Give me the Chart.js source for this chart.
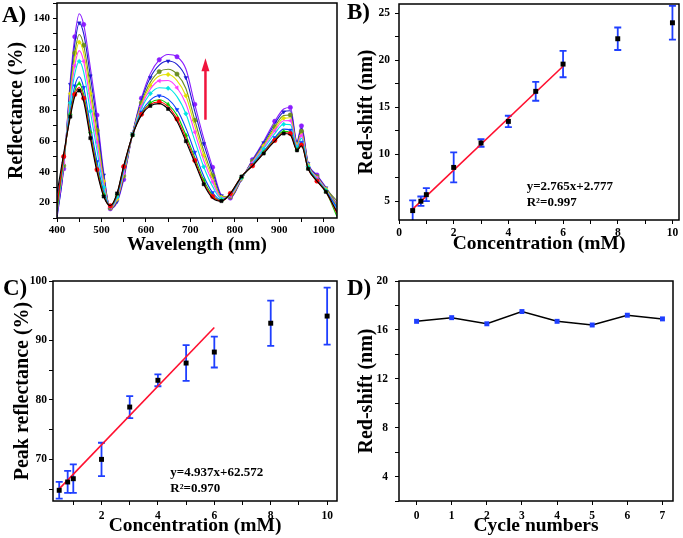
<!DOCTYPE html>
<html><head><meta charset="utf-8">
<script src="https://cdn.jsdelivr.net/npm/chart.js@4.4.1/dist/chart.umd.min.js"></script>
<style>
html,body{margin:0;padding:0;background:#fff;}
#page{position:relative;width:683px;height:538px;overflow:hidden;background:#fff;}
canvas{position:absolute;}
.lbl{position:absolute;font:bold 23px 'Liberation Serif','Times New Roman',serif;line-height:23px;color:#000;}
</style></head><body>
<div id="page">
<canvas id="cA" width="341" height="265" style="left:0px;top:0px"></canvas>
<canvas id="cB" width="342" height="265" style="left:341px;top:0px"></canvas>
<canvas id="cC" width="341" height="273" style="left:0px;top:265px"></canvas>
<canvas id="cD" width="342" height="273" style="left:341px;top:265px"></canvas>
<div class="lbl" style="left:2px;top:3px">A)</div>
<div class="lbl" style="left:347px;top:0px">B)</div>
<div class="lbl" style="left:3px;top:276px">C)</div>
<div class="lbl" style="left:347px;top:276px">D)</div>
</div>
<script>
// ---------- Panel A data: reflectance spectra ----------
const wavelength = [400,415,430,440,450,460,475,490,505,520,535,550,570,590,610,630,650,670,690,710,730,750,770,790,815,840,865,890,910,925,940,950,965,985,1005,1030];
const specBlack   = [26,52,76,89,93,86,62,40,24,18,26,44,64,77,83,84.5,81,73,60,46,32,23,21,26,37,44,52,60,65,64,54,57,42,34,27,14];
const specRed     = [18,50,77,90.5,95,88,64,41.5,24.5,18,25.5,43.5,64,77.5,84,85.5,82.5,74.5,62,47.5,33,24,21,26,37,44,52.5,60.5,65.5,65,54,57.5,42,34,27,13];
const specGreen   = [14,49,78,92.5,97.5,90.5,66,43.3,25.4,17.8,25.5,43,64,78,85,87,84,77,64,49.4,34.7,24.8,21.4,25.7,36.8,44.4,52.7,61.2,66.4,65.6,54.5,58.2,42.4,34.4,27.3,11];
const specBlue    = [22,49,80,96,102,95,70,46.7,26.9,17.6,24.9,42.4,64.2,79,86.8,89.6,87.4,80.6,68.5,52.8,37.4,26.6,21.7,25.5,36.6,44.7,53.4,62.3,67.9,67.2,55,59.3,42.7,34.7,27.5,17];
const specCyan    = [16,47,85,103.8,112,105,79.5,54,30,17.2,23.7,40.6,64.4,81.2,91,94.8,94.5,89,77.9,60.4,43.4,30.6,22.5,24.9,36.2,45.5,55,65,71,70.8,56.3,62,43.5,35.5,28.1,16];
const specMagenta = [12,46,88.5,109.3,119,112,86,59.2,32.3,17,22.9,39.3,64.5,82.7,93.9,99.3,99.5,94.8,84.4,65.8,47.6,33.4,23.1,24.4,36,46.1,56.2,66.8,73.3,73.4,57.1,63.8,44.1,36.1,28.6,15];
const specYellow  = [15,45,91,113.6,124.5,117.5,91,63.3,34,16.7,22.2,38.3,64.6,84,96.2,102.5,103.4,99.5,89.6,70,50.9,35.6,23.5,24.1,35.7,46.5,57,68.2,75,75.3,57.8,65.2,44.5,36.5,28.9,18];
const specOlive   = [20,44,93.5,117.5,129.5,122.5,95.6,67,35.7,16.5,21.6,37.4,64.7,85,98.3,105.3,106.9,103.7,94.3,73.7,53.9,37.6,23.9,23.8,35.5,46.9,57.8,69.5,76.7,77.1,58.4,66.5,44.9,36.9,29.2,21];
const specNavy    = [10,43,97,123.3,137,130,102.5,72.6,38,16.2,20.7,36.1,64.9,86.7,101.5,109.6,112.2,110,101.4,79.4,58.4,40.6,24.5,23.4,35.2,47.5,59,71.4,79.1,79.8,59.3,68.4,45.5,37.5,29.6,18];
const specPurple  = [12,42,100,128,143,136,108,77,40,16,20,35,65,88,104,113,116.5,115,107,84,62,43,25,23,35,48,60,73,81,82,60,70,46,38,30,19];
// arrow annotation (wavelength, reflectance tail -> head)
const arrowPos = [734, 74, 114];

// ---------- Panel B data ----------
const concentration = [0.5,0.8,1,2,3,4,5,6,8,10];
const redShift      = [4.0,5.0,5.7,8.6,11.2,13.5,16.7,19.6,22.3,24.0];
const redShiftErr   = [1.1,0.5,0.7,1.6,0.4,0.6,1.0,1.4,1.2,1.8];
const fitBx = [0.5,6];
const fitBy = [4.16,19.37];
const eqB = ['y=2.765x+2.777','R\u00B2=0.997'];

// ---------- Panel C data ----------
const peakRefl    = [64.8,66.2,66.75,70.0,78.8,83.3,86.2,88.05,92.9,94.1];
const peakReflErr = [1.4,1.85,2.4,2.8,1.85,1.0,3.0,2.6,3.8,4.8];
const fitCx = [0.5,6];
const fitCy = [65.04,92.19];
const eqC = ['y=4.937x+62.572','R\u00B2=0.970'];

// ---------- Panel D data ----------
const cycles      = [0,1,2,3,4,5,6,7];
const cycleShift  = [16.7,17.0,16.5,17.5,16.7,16.4,17.2,16.9];

// ---------- helpers ----------
const SERIF = "'Liberation Serif','Times New Roman',serif";
Chart.defaults.font.family = SERIF;
Chart.defaults.color = '#000';

function xAxis(o){
  return {
    type:'linear', position:'bottom', min:o.min, max:o.max,
    border:{display:false},
    grid:{display:true, drawOnChartArea:false, drawTicks:true, tickLength:4, color:'#000', lineWidth:1},
    ticks:{stepSize:o.step, autoSkip:false, includeBounds:false, maxRotation:0, color:'#000', padding:o.tickPad,
      font:{family:SERIF, weight:'bold', size:o.tickSize}, callback:o.label},
    title:{display:true, text:o.title, color:'#000', font:{family:SERIF, weight:'bold', size:o.titleSize||20}, padding:{top:0,bottom:o.titlePad}},
    afterFit:s=>{s.height=o.height; s.paddingLeft=0; s.paddingRight=0;}
  };
}
function yAxis(o){
  return {
    type:'linear', position:'left', min:o.min, max:o.max,
    border:{display:false},
    grid:{display:true, drawOnChartArea:false, drawTicks:true, tickLength:4, color:'#000', lineWidth:1},
    ticks:{stepSize:o.step, autoSkip:false, includeBounds:false, color:'#000', padding:o.tickPad,
      font:{family:SERIF, weight:'bold', size:o.tickSize}, callback:o.label},
    title:{display:true, text:o.title, color:'#000', font:{family:SERIF, weight:'bold', size:20}, padding:{top:o.titlePad,bottom:0}},
    afterFit:s=>{s.width=o.width; s.paddingTop=0; s.paddingBottom=0;}
  };
}
const framePlugin = {
  id:'frame',
  afterDatasetsDraw(chart){
    const {ctx, chartArea:a} = chart;
    ctx.save(); ctx.strokeStyle='#000'; ctx.lineWidth=1.5;
    ctx.strokeRect(a.left, a.top, a.right-a.left, a.bottom-a.top);
    ctx.restore();
  }
};
const errPlugin = {
  id:'errbars',
  beforeDatasetsDraw(chart, args, opts){
    if(!opts || !opts.xs) return;
    const {ctx, chartArea:a, scales:{x, y}} = chart;
    ctx.save();
    ctx.beginPath(); ctx.rect(a.left, a.top, a.right-a.left, a.bottom-a.top); ctx.clip();
    ctx.strokeStyle = opts.color; ctx.lineWidth = 1.8;
    opts.xs.forEach((xv,i)=>{
      const px = x.getPixelForValue(xv);
      const t = y.getPixelForValue(opts.ys[i]+opts.es[i]);
      const b = y.getPixelForValue(opts.ys[i]-opts.es[i]);
      ctx.beginPath();
      ctx.moveTo(px,t); ctx.lineTo(px,b);
      ctx.moveTo(px-3.5,t); ctx.lineTo(px+3.5,t);
      ctx.moveTo(px-3.5,b); ctx.lineTo(px+3.5,b);
      ctx.stroke();
    });
    ctx.restore();
  }
};
const notePlugin = {
  id:'notes',
  afterDatasetsDraw(chart, args, opts){
    if(!opts || !opts.lines) return;
    const {ctx, scales:{x, y}} = chart;
    ctx.save();
    ctx.fillStyle='#000'; ctx.font = 'bold 13px '+SERIF; ctx.textAlign='left'; ctx.textBaseline='middle';
    opts.lines.forEach((t,i)=>{
      ctx.fillText(t, x.getPixelForValue(opts.x), y.getPixelForValue(opts.y[i]));
    });
    ctx.restore();
  }
};
const arrowPlugin = {
  id:'arrow',
  afterDatasetsDraw(chart, args, opts){
    if(!opts || !opts.pos) return;
    const {ctx, scales:{x, y}} = chart;
    const px = x.getPixelForValue(opts.pos[0]);
    const y0 = y.getPixelForValue(opts.pos[1]);
    const y1 = y.getPixelForValue(opts.pos[2]);
    ctx.save();
    ctx.strokeStyle = opts.color; ctx.fillStyle = opts.color; ctx.lineWidth = 2.5;
    ctx.beginPath(); ctx.moveTo(px,y0); ctx.lineTo(px,y1+10); ctx.stroke();
    ctx.beginPath(); ctx.moveTo(px,y1); ctx.lineTo(px-4,y1+13); ctx.lineTo(px+4,y1+13); ctx.closePath(); ctx.fill();
    ctx.restore();
  }
};

// ---------- Panel A ----------
const specList = [
  [specBlack,'#000000','rect',0],
  [specRed,'#ff0000','circle',0],
  [specGreen,'#00d000','triangle',0],
  [specBlue,'#0a3cff','triangle',180],
  [specCyan,'#00e5e5','rectRot',0],
  [specMagenta,'#ff3cff','triangle',270],
  [specYellow,'#e2e200','rectRot',0],
  [specOlive,'#6b8e23','circle',0],
  [specNavy,'#1a1ad0','triangle',180],
  [specPurple,'#8a1cff','circle',0]
];
new Chart(document.getElementById('cA'), {
  type:'line',
  data:{datasets: specList.map((s,k)=>({
    data: wavelength.map((w,i)=>({x:w, y:s[0][i]})),
    borderColor:s[1], backgroundColor:s[1], borderWidth:1.1,
    pointStyle:s[2], rotation:s[3],
    pointRadius: c => ((c.dataIndex + k) % 2 === 0 && c.dataIndex > 0 && c.dataIndex < wavelength.length-1) ? 2.2 : 0,
    pointBorderWidth:0.5,
    cubicInterpolationMode:'monotone', fill:false
  }))},
  options:{
    responsive:false, animation:false, events:[],
    layout:{padding:{left:0, top:3, right:4, bottom:0}},
    plugins:{legend:{display:false}, tooltip:{enabled:false}, arrow:{pos:arrowPos, color:'#f0143c'}},
    scales:{
      x: xAxis({min:400, max:1030, step:50, tickPad:2, tickSize:11, title:'Wavelength (nm)', titleSize:19, titlePad:9, height:47,
        label:v=> v%100===0 ? v : ''}),
      y: yAxis({min:10, max:150, step:10, tickPad:3, tickSize:11, title:'Reflectance (%)', titlePad:5, width:57,
        label:v=> (v%20===0 && v>=20 && v<=140) ? v : ''})
    }
  },
  plugins:[framePlugin, arrowPlugin]
});

// ---------- Panel B ----------
new Chart(document.getElementById('cB'), {
  type:'scatter',
  data:{datasets:[
    {type:'scatter', data: concentration.map((c,i)=>({x:c, y:redShift[i]})), pointStyle:'rect', pointRadius:3.5,
      backgroundColor:'#000', borderColor:'#000', borderWidth:0},
    {type:'line', data: fitBx.map((c,i)=>({x:c, y:fitBy[i]})), borderColor:'#ff1030', borderWidth:1.6, pointRadius:0, fill:false}
  ]},
  options:{
    responsive:false, animation:false, events:[],
    layout:{padding:{left:0, top:2, right:1, bottom:0}},
    plugins:{legend:{display:false}, tooltip:{enabled:false},
      errbars:{xs:concentration, ys:redShift, es:redShiftErr, color:'#1f3fff'},
      notes:{x:4.67, y:[6.5,4.8], lines:eqB}},
    scales:{
      x: xAxis({min:0, max:10.24, step:1, tickPad:2, tickSize:11.5, title:'Concentration (mM)', titleSize:19.5, titlePad:9, height:45,
        label:v=> v%2===0 ? v : ''}),
      y: yAxis({min:3, max:26, step:2.5, tickPad:5, tickSize:11.5, title:'Red-shift (nm)', titlePad:14, width:58,
        label:v=> v%5===0 ? v : ''})
    }
  },
  plugins:[framePlugin, errPlugin, notePlugin]
});

// ---------- Panel C ----------
new Chart(document.getElementById('cC'), {
  type:'scatter',
  data:{datasets:[
    {type:'scatter', data: concentration.map((c,i)=>({x:c, y:peakRefl[i]})), pointStyle:'rect', pointRadius:3.5,
      backgroundColor:'#000', borderColor:'#000', borderWidth:0},
    {type:'line', data: fitCx.map((c,i)=>({x:c, y:fitCy[i]})), borderColor:'#ff1030', borderWidth:1.6, pointRadius:0, fill:false}
  ]},
  options:{
    responsive:false, animation:false, events:[],
    layout:{padding:{left:0, top:16, right:1, bottom:0}},
    plugins:{legend:{display:false}, tooltip:{enabled:false},
      errbars:{xs:concentration, ys:peakRefl, es:peakReflErr, color:'#1f3fff'},
      notes:{x:4.44, y:[67.8,65.1], lines:eqC}},
    scales:{
      x: xAxis({min:0.28, max:10.35, step:1, tickPad:4, tickSize:11.5, title:'Concentration (mM)', titleSize:19.5, titlePad:0, height:37,
        label:v=> v%2===0 ? v : ''}),
      y: yAxis({min:63, max:100, step:5, tickPad:2, tickSize:11.5, title:'Peak reflectance (%)', titlePad:11, width:53,
        label:v=> v%10===0 ? v : ''})
    }
  },
  plugins:[framePlugin, errPlugin, notePlugin]
});

// ---------- Panel D ----------
new Chart(document.getElementById('cD'), {
  type:'line',
  data:{datasets:[
    {data: cycles.map((c,i)=>({x:c, y:cycleShift[i]})), borderColor:'#000', borderWidth:1.5,
      pointStyle:'rect', pointRadius:3.5, pointBackgroundColor:'#1f3fff', pointBorderColor:'#1f3fff', pointBorderWidth:0,
      tension:0, fill:false}
  ]},
  options:{
    responsive:false, animation:false, events:[],
    layout:{padding:{left:0, top:16, right:10, bottom:0}},
    plugins:{legend:{display:false}, tooltip:{enabled:false}},
    scales:{
      x: xAxis({min:-0.5, max:7.3, step:1, tickPad:4, tickSize:11.5, title:'Cycle numbers', titleSize:19.5, titlePad:0, height:37,
        label:v=> v}),
      y: yAxis({min:2, max:20, step:2, tickPad:7, tickSize:11.5, title:'Red-shift (nm)', titlePad:14, width:58,
        label:v=> v%4===0 ? v : ''})
    }
  },
  plugins:[framePlugin]
});
</script>
</body></html>
